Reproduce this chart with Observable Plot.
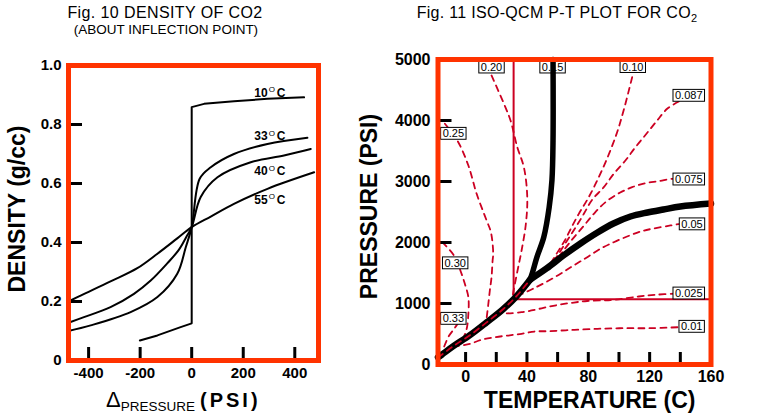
<!DOCTYPE html>
<html>
<head>
<meta charset="utf-8">
<script src="https://cdn.jsdelivr.net/npm/d3@7"></script>
<script src="https://cdn.jsdelivr.net/npm/@observablehq/plot@0.6"></script>
<style>
html,body{margin:0;padding:0;background:#fff;}
#page{position:relative;width:775px;height:419px;overflow:hidden;background:#fff;}
#page svg{position:absolute;top:0;}
</style>
</head>
<body>
<div id="page"></div>
<script>
// ---------------- Fig. 10 : density about inflection point ----------------
const dp10  = [-201, -133, -43, 0, 0, 48, 164, 294, 436];
const rho10 = [0.068, 0.085, 0.113, 0.126, 0.859, 0.870, 0.879, 0.887, 0.892];
const dp33  = [-478, -392, -237, -133, -56, -23, 0, 31, 74, 164, 294, 449];
const rho33 = [0.100, 0.119, 0.164, 0.215, 0.294, 0.384, 0.452, 0.616, 0.655, 0.700, 0.734, 0.755];
const dp40  = [-478, -418, -315, -224, -159, -94, -50, -20, 0, 35, 100, 229, 358, 462];
const rho40 = [0.128, 0.147, 0.181, 0.226, 0.271, 0.330, 0.375, 0.420, 0.452, 0.554, 0.621, 0.672, 0.695, 0.717];
const dp55  = [-478, -431, -315, -211, -133, -56, 0, 74, 164, 294, 475];
const rho55 = [0.200, 0.220, 0.268, 0.313, 0.362, 0.414, 0.452, 0.488, 0.531, 0.582, 0.638];
const tempLabels = ["10", "33", "40", "55"];
const tempLabelDp = [295, 295, 295, 295];
const tempLabelRho = [0.907, 0.760, 0.641, 0.545];
const dpTicks = [-400, -200, 0, 200, 400];
const rhoTicks = [0, 0.2, 0.4, 0.6, 0.8, 1.0];

// ---------------- Fig. 11 : iso-QCM P-T plot ----------------
const satT  = [-18, -15.6, -8, 2.8, 13.7, 24.6, 33.2, 42];
const satP  = [118, 160, 300, 480, 690, 910, 1120, 1390];
const crT   = [42, 43.5, 46.5, 51, 54.5, 56.3, 57, 57];
const crP   = [1390, 1500, 1760, 2090, 2580, 3020, 3670, 5000];
const supT  = [42, 52.8, 63.8, 74.9, 86, 96.4, 107.5, 118.6, 129, 140, 160];
const supP  = [1390, 1574, 1787, 1984, 2164, 2311, 2426, 2492, 2541, 2590, 2639];
const Tc = 31.3, Pc = 1070;

const t020 = [16.9, 25, 29.3, 33.7, 38, 40.2, 39.3, 36.5, 34.3, 31.3, 30.5];
const p020 = [4738, 4274, 4000, 3562, 3234, 2743, 2307, 1869, 1595, 1213, 1090];
const t025 = [-13.5, -5.4, 1.8, 7.2, 13.7, 16.5, 18, 17.6, 16.9, 15.8, 14.7, 13.5];
const p025 = [3946, 3672, 3262, 2798, 2361, 2169, 1815, 1705, 1431, 1213, 967, 720];
const t030 = [-15.2, -7.6, -3.9, -0.5, 1.8, 1.8, 0.7, -1.5];
const p030 = [2005, 1787, 1574, 1323, 1103, 831, 585, 430];
const t033 = [-4.6, -7.8, -11.1, -14.5];
const p033 = [689, 574, 459, 260];
const t010 = [108.6, 103.6, 98.8, 91.9, 84, 79.3, 73.8, 69.1, 64.7, 59.3, 54.1];
const p010 = [4710, 4218, 3808, 3356, 2923, 2700, 2470, 2251, 2033, 1815, 1607];
const t087 = [139, 131.4, 124.9, 117.9, 110.7, 104.2, 96.6, 90.1, 82.5, 77.1, 71.7, 65.8, 59.9, 54.7];
const p087 = [4311, 4192, 4000, 3782, 3562, 3344, 3126, 2907, 2700, 2470, 2246, 2016, 1787, 1590];
const t075 = [138, 134.7, 125.9, 117.3, 108.6, 100.5, 91.2, 83.6, 76.7, 68.4, 61.9, 56];
const p075 = [3041, 3044, 3005, 2972, 2907, 2815, 2661, 2470, 2262, 2016, 1803, 1607];
const t005 = [141.4, 133.6, 121.6, 114, 105.3, 96.6, 87.9, 79.3, 70.4, 61.9, 53.1, 44.3, 37.1];
const p005 = [2311, 2279, 2225, 2180, 2098, 2005, 1897, 1759, 1623, 1487, 1361, 1246, 1160];
const t0025 = [137.5, 123.8, 112.9, 96.6, 79.3, 70.6, 61.9, 53.4, 45.1, 36.5, 26.1, 22];
const p0025 = [1164, 1143, 1115, 1061, 1041, 1016, 984, 943, 897, 857, 840, 860];
const t001 = [138.1, 120.5, 102.9, 86, 71, 62.5, 53.9, 45.1, 36.5, 27.8, 19.1, 10.4, 2.8, -6];
const p001 = [611, 595, 595, 585, 569, 557, 546, 541, 503, 475, 448, 405, 339, 300];

const qText = ["0.20", "0.15", "0.10", "0.087", "0.25", "0.075", "0.05", "0.30", "0.025", "0.33", "0.01"];
const qT = [16.9, 56.7, 109, 145.5, -8, 145.5, 147.6, -6.8, 145.5, -8, 147.4];
const qP = [4869, 4869, 4877, 4405, 3782, 3033, 2298, 1659, 1164, 749, 618];
const tTicks = [0, 20, 40, 60, 80, 100, 120, 140];
const tLabels = [0, 40, 80, 120, 160];
const pTicks = [1000, 2000, 3000, 4000];
const pLabels = [0, 1000, 2000, 3000, 4000, 5000];

// ---------------- styling ----------------
const FONT = "'Liberation Sans', Arial, Helvetica, sans-serif";
const FRAME = "#ff3300";
const RED = "#cc0022";
const pts = (X, Y) => X.map((x, i) => [x, Y[i]]);
const page = document.getElementById("page");

// ---------- left chart ----------
const W1 = 340, H1 = 419, mL1 = 68, mR1 = 22, mT1 = 65, mB1 = 59;
const iW1 = W1 - mL1 - mR1, iH1 = H1 - mT1 - mB1;
const blk = {stroke: "black", strokeWidth: 2, curve: "catmull-rom"};
const fig10 = Plot.plot({
  width: W1, height: H1,
  marginLeft: mL1, marginRight: mR1, marginTop: mT1, marginBottom: mB1,
  style: {fontFamily: FONT, background: "transparent", overflow: "visible"},
  x: {domain: [-478, 492]},
  y: {domain: [0, 1]},
  marks: [
    Plot.line(pts(dp10, rho10), {stroke: "black", strokeWidth: 2}),
    Plot.line(pts(dp33, rho33), blk),
    Plot.line(pts(dp40, rho40), blk),
    Plot.line(pts(dp55, rho55), blk),
    Plot.text(tempLabels, {x: tempLabelDp, y: tempLabelRho, text: d => d, textAnchor: "end", fontSize: 12, fontWeight: "bold"}),
    Plot.text(tempLabels, {x: tempLabelDp, y: tempLabelRho, text: () => "O", textAnchor: "start", dx: 1, dy: -3, fontSize: 8}),
    Plot.text(tempLabels, {x: tempLabelDp, y: tempLabelRho, text: () => "C", textAnchor: "start", dx: 9, fontSize: 12, fontWeight: "bold"}),
    Plot.ruleX(dpTicks, {insetTop: iH1 - 13, stroke: "black", strokeWidth: 3}),
    Plot.ruleY(rhoTicks.filter(v => v > 0 && v < 1), {insetRight: iW1 - 14, stroke: "black", strokeWidth: 3}),
    Plot.frame({stroke: FRAME, strokeWidth: 5}),
    Plot.axisX(dpTicks, {anchor: "bottom", tickSize: 0, tickPadding: 7, fontSize: 15, fontWeight: "bold", label: null, tickFormat: d => String(d)}),
    Plot.axisY(rhoTicks, {anchor: "left", tickSize: 0, tickPadding: 7, fontSize: 15, fontWeight: "bold", label: null, tickFormat: d => d === 0 ? "0" : d.toFixed(1)})
  ]
});
fig10.style.left = "0px";
page.appendChild(fig10);

// ---------- right chart ----------
const X2 = 340, W2 = 435, H2 = 419, mL2 = 97.5, mR2 = 64.5, mT2 = 59, mB2 = 55;
const iW2 = W2 - mL2 - mR2, iH2 = H2 - mT2 - mB2;
const dash = {stroke: RED, strokeWidth: 1.8, strokeDasharray: "6,5", curve: "catmull-rom"};
const fig11 = Plot.plot({
  width: W2, height: H2,
  marginLeft: mL2, marginRight: mR2, marginTop: mT2, marginBottom: mB2,
  style: {fontFamily: FONT, background: "transparent", overflow: "visible"},
  x: {domain: [-18, 160]},
  y: {domain: [0, 5000]},
  marks: [
    Plot.line(pts(t020, p020), dash),
    Plot.line(pts(t025, p025), dash),
    Plot.line(pts(t030, p030), dash),
    Plot.line(pts(t033, p033), dash),
    Plot.line(pts(t010, p010), dash),
    Plot.line(pts(t087, p087), dash),
    Plot.line(pts(t075, p075), dash),
    Plot.line(pts(t005, p005), dash),
    Plot.line(pts(t0025, p0025), dash),
    Plot.line(pts(t001, p001), dash),
    Plot.ruleX([Tc], {y1: Pc, y2: 5000, stroke: RED, strokeWidth: 2}),
    Plot.ruleY([Pc], {x1: Tc, x2: 160, stroke: RED, strokeWidth: 2}),
    Plot.text(qText, {x: qT, y: qP, text: d => d, fontSize: 11}),
    Plot.line(pts(satT, satP), {stroke: "black", strokeWidth: 6.5, curve: "catmull-rom"}),
    Plot.line(pts(crT, crP), {stroke: "black", strokeWidth: 5.5, curve: "catmull-rom"}),
    Plot.line(pts(supT, supP), {stroke: "black", strokeWidth: 6.5, curve: "catmull-rom"}),
    Plot.line(pts(satT, satP), {stroke: RED, strokeWidth: 1.8, strokeDasharray: "6,5", curve: "catmull-rom"}),
    Plot.ruleX(tTicks, {insetTop: iH2 - 12, stroke: "black", strokeWidth: 3}),
    Plot.ruleY(pTicks, {insetRight: iW2 - 14, stroke: "black", strokeWidth: 3}),
    Plot.frame({stroke: FRAME, strokeWidth: 5}),
    Plot.axisX(tLabels, {anchor: "bottom", tickSize: 0, tickPadding: 6, fontSize: 16, fontWeight: "bold", label: null, tickFormat: d => String(d)}),
    Plot.axisY(pLabels, {anchor: "left", tickSize: 0, tickPadding: 7.5, fontSize: 16, fontWeight: "bold", label: null, tickFormat: d => String(d)})
  ]
});
fig11.style.left = X2 + "px";
page.appendChild(fig11);

// boxes behind the iso-QCM labels
const qSet = new Set(qText);
d3.select(fig11).selectAll("text")
  .filter(function () { return qSet.has(this.textContent); })
  .each(function () {
    const b = this.getBBox();
    const fs = 11;
    const base = b.y + 0.905 * fs;
    d3.select(this.parentNode).insert("rect", () => this)
      .attr("transform", this.getAttribute("transform"))
      .attr("x", b.x - 2).attr("y", base - 0.716 * fs - 2)
      .attr("width", b.width + 4).attr("height", 0.716 * fs + 4)
      .attr("fill", "white").attr("stroke", "black").attr("stroke-width", 1);
  });

// ---------- titles and axis titles ----------
const ov = d3.select(page).append("svg")
  .attr("width", 775).attr("height", 419)
  .style("left", "0px").style("pointer-events", "none")
  .attr("font-family", FONT).attr("fill", "black");

ov.append("text").attr("x", 165).attr("y", 17.5).attr("text-anchor", "middle")
  .attr("font-size", 16).attr("letter-spacing", 0.4).text("Fig. 10 DENSITY OF CO2");
ov.append("text").attr("x", 166).attr("y", 33.5).attr("text-anchor", "middle")
  .attr("font-size", 13.5).text("(ABOUT INFLECTION POINT)");
const t11 = ov.append("text").attr("x", 557).attr("y", 18).attr("text-anchor", "middle")
  .attr("font-size", 16).attr("letter-spacing", 0.3);
t11.append("tspan").text("Fig. 11 ISO-QCM P-T PLOT FOR CO");
t11.append("tspan").attr("font-size", 11).attr("dy", 4).text("2");

ov.append("text").attr("transform", "translate(25,209) rotate(-90)").attr("text-anchor", "middle")
  .attr("font-size", 23).attr("font-weight", "bold").text("DENSITY (g/cc)");
ov.append("text").attr("transform", "translate(377,206.5) rotate(-90)").attr("text-anchor", "middle")
  .attr("font-size", 23).attr("font-weight", "bold").text("PRESSURE (PSI)");
ov.append("text").attr("x", 589.7).attr("y", 408.3).attr("text-anchor", "middle")
  .attr("font-size", 23).attr("font-weight", "bold").text("TEMPERATURE (C)");

const xl = ov.append("text").attr("x", 106).attr("y", 406.7);
xl.append("tspan").attr("font-size", 22).text("Δ");
xl.append("tspan").attr("font-size", 13.5).attr("dy", 4.3).text("PRESSURE");
xl.append("tspan").attr("font-size", 20).attr("font-weight", "bold").attr("dy", -4.3).attr("dx", 5)
  .attr("letter-spacing", 3).text("(PSI)");
</script>
</body>
</html>
